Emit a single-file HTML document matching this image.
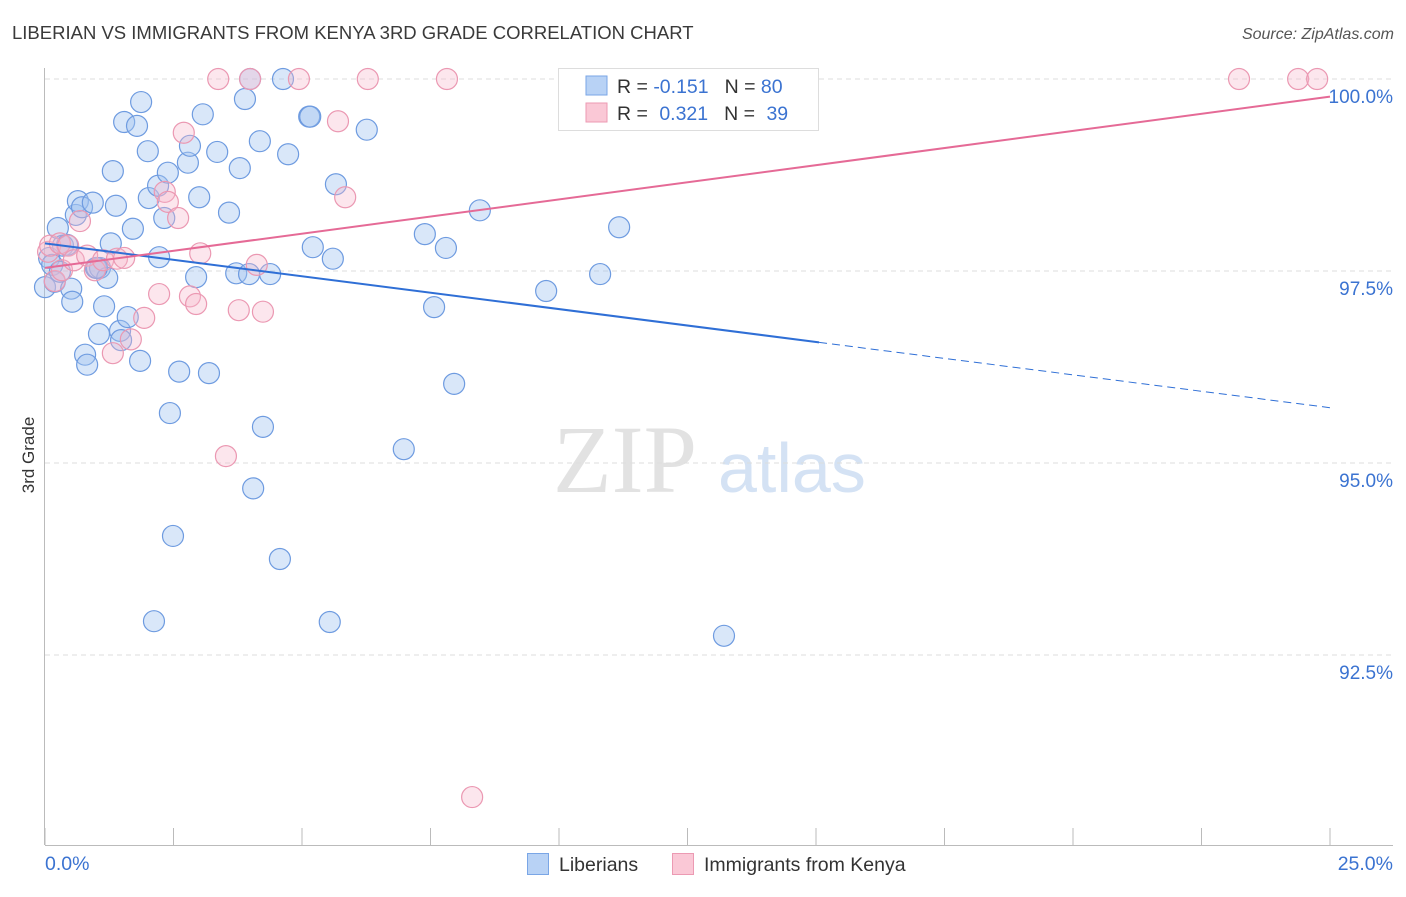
<!DOCTYPE html>
<html><head><meta charset="utf-8"><style>
body{margin:0;background:#fff;font-family:"Liberation Sans",sans-serif}
</style></head><body>
<svg id="c" width="1406" height="892" xmlns="http://www.w3.org/2000/svg" style="font-family:'Liberation Sans',sans-serif">
<text x="12" y="39" font-size="18.5" fill="#3a3a3a">LIBERIAN VS IMMIGRANTS FROM KENYA 3RD GRADE CORRELATION CHART</text>
<text x="1394" y="39" font-size="16" fill="#555" text-anchor="end" font-style="italic">Source: ZipAtlas.com</text>
<text transform="translate(34,455) rotate(-90)" font-size="17" fill="#333" text-anchor="middle">3rd Grade</text>
<g>
<text x="553" y="492" font-size="96" font-family="'Liberation Serif',serif" fill="#e2e2e2">ZIP</text>
<text x="718" y="492" font-size="70" fill="#d4e2f4">atlas</text>
</g>
<g id="grid"></g><g id="axes"></g><g id="pts"></g><g id="trend"></g>
<g>
<rect x="558.5" y="68.5" width="260" height="62" fill="#fff" stroke="#ddd"/>
<rect x="586" y="76" width="21" height="19" fill="#b8d2f5" stroke="#7aa6e6"/>
<rect x="586" y="103" width="21" height="19" fill="#fac8d6" stroke="#ec9ab3"/>
<text x="617" y="93" font-size="19.5" fill="#333">R = <tspan fill="#3b73d1">-0.151</tspan><tspan dx="16">N = </tspan><tspan fill="#3b73d1">80</tspan></text>
<text x="617" y="120" font-size="19.5" fill="#333">R = <tspan fill="#3b73d1" dx="6">0.321</tspan><tspan dx="16">N = </tspan><tspan fill="#3b73d1" dx="6">39</tspan></text>
</g>
<g>
<rect x="527.5" y="853.5" width="21" height="21" fill="#b8d2f5" stroke="#7aa6e6"/>
<text x="559" y="871" font-size="19.5" fill="#333">Liberians</text>
<rect x="672.5" y="853.5" width="21" height="21" fill="#fac8d6" stroke="#ec9ab3"/>
<text x="704" y="871" font-size="19.5" fill="#333">Immigrants from Kenya</text>
</g>
</svg>
<script>
const blueX=[0,.08,.14,.19,.25,.29,.35,.43,.51,.53,.60,.64,.72,.93,.99,1.07,1.05,1.15,1.21,1.28,1.32,1.38,1.46,1.48,1.54,1.61,1.71,1.79,1.85,1.87,2.00,2.02,2.20,2.22,2.32,2.39,2.43,2.49,2.61,2.12,2.78,2.82,2.94,3.00,3.07,3.19,3.35,3.58,3.72,3.79,3.89,3.97,3.99,4.05,4.18,4.24,4.38,4.57,4.63,4.73,5.14,5.16,5.21,5.54,5.60,5.66,6.26,6.98,7.39,7.57,7.80,7.96,8.46,9.75,10.80,11.17,13.21,.78,.82,1.01];
const blueY=[97.29,97.67,97.58,97.36,98.06,97.49,97.83,97.84,97.27,97.10,98.23,98.41,98.33,98.39,97.54,97.54,96.68,97.04,97.41,97.86,98.80,98.35,96.72,96.60,99.44,96.90,98.05,99.39,96.33,99.70,99.06,98.45,98.61,97.68,98.19,98.78,95.65,94.05,96.19,92.94,98.91,99.13,97.42,98.46,99.54,96.17,99.05,98.26,97.47,98.84,99.74,97.46,100,94.67,99.19,95.47,97.46,93.75,100,99.02,99.51,99.51,97.81,92.93,97.66,98.63,99.34,95.18,97.98,97.03,97.80,96.03,98.29,97.24,97.46,98.07,92.75,96.41,96.28,97.54];
const pinkX=[.06,.10,.19,.29,.33,.45,.56,.68,.82,.97,1.13,1.32,1.40,1.54,1.67,1.93,2.22,2.33,2.39,2.59,2.70,2.82,2.94,3.02,3.37,3.52,3.77,3.99,4.12,4.24,4.94,5.70,5.84,6.28,7.82,8.31,23.23,24.38,24.75];
const pinkY=[97.75,97.83,97.37,97.86,97.51,97.83,97.64,98.15,97.70,97.51,97.64,96.43,97.66,97.67,96.61,96.89,97.20,98.53,98.40,98.19,99.30,97.17,97.07,97.73,100,95.09,96.99,100,97.58,96.97,100,99.45,98.46,100,100,90.65,100,100,100];
const blueTrend=[97.86,-0.0856];
const pinkTrend=[97.54,0.0892];
const yTicks=[100,97.5,95,92.5];
const yTickLabels=["100.0%","97.5%","95.0%","92.5%"];
const xTicks=[0,2.5,5,7.5,10,12.5,15,17.5,20,22.5,25];
const NS="http://www.w3.org/2000/svg";
const sx=v=>45+v/25*1285, sy=v=>79+(100-v)*76.8;
function mk(p,tag,a){const e=document.createElementNS(NS,tag);for(const k in a)e.setAttribute(k,a[k]);document.getElementById(p).appendChild(e);return e;}
yTicks.forEach((t,i)=>{
 const g=mk('grid','line',{x1:45,x2:1393,y1:sy(t),y2:sy(t),stroke:'#ddd','stroke-dasharray':'5,4'});
 
 
 const l=mk('grid','text',{x:1393,y:sy(t)+24,'font-size':19,fill:'#3b73d1','text-anchor':'end'});
 l.textContent=yTickLabels[i];
 
 
});
const ya=mk('axes','line',{x1:44.5,x2:44.5,y1:68,y2:845,stroke:'#bbb'});


const xa=mk('axes','line',{x1:45,x2:1393,y1:845.5,y2:845.5,stroke:'#bbb'});


xTicks.forEach(t=>{const k=mk('axes','line',{x1:sx(t),x2:sx(t),y1:828,y2:845,stroke:'#bbb'});
 
 });
const x0=mk('axes','text',{x:45,y:870,'font-size':19.5,fill:'#3b73d1'});x0.textContent='0.0%';


const x1=mk('axes','text',{x:1393,y:870,'font-size':19.5,fill:'#3b73d1','text-anchor':'end'});x1.textContent='25.0%';


blueX.forEach((x,i)=>{const c=mk('pts','circle',{cx:sx(x),cy:sy(blueY[i]),r:10.5,fill:'rgba(160,196,240,0.4)',stroke:'#6e9be0','stroke-width':1.2});
 
 });
pinkX.forEach((x,i)=>{const c=mk('pts','circle',{cx:sx(x),cy:sy(pinkY[i]),r:10.5,fill:'rgba(246,184,204,0.35)',stroke:'#eb98b2','stroke-width':1.2});
 
 });
const bt=v=>blueTrend[0]+blueTrend[1]*v, pt=v=>pinkTrend[0]+pinkTrend[1]*v;
const b1=mk('trend','line',{x1:sx(0),y1:sy(bt(0)),x2:sx(15.06),y2:sy(bt(15.06)),stroke:'#2f6fd6','stroke-width':2});


const b2=mk('trend','line',{x1:sx(15.06),y1:sy(bt(15.06)),x2:sx(25),y2:sy(bt(25)),stroke:'#2f6fd6','stroke-width':1,'stroke-dasharray':'8,5'});


const p1=mk('trend','line',{x1:sx(0),y1:sy(pt(0)),x2:sx(25),y2:sy(pt(25)),stroke:'#e56a96','stroke-width':2});


</script>
</body></html>
